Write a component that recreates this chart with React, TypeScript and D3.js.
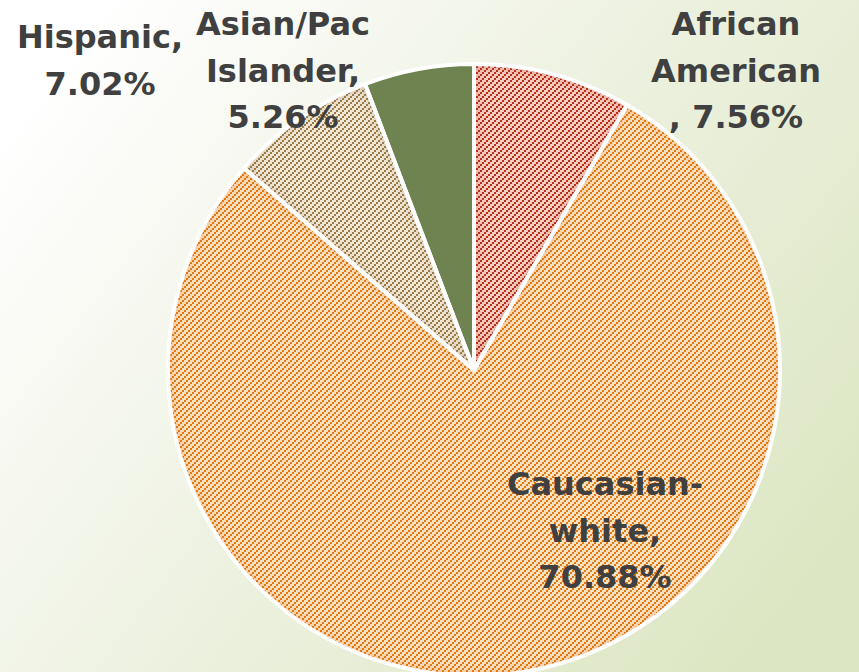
import React from "react";
import * as d3 from "d3";

const categories = ["African American", "Caucasian-white", "Hispanic", "Asian/Pac Islander"];
const values = [7.56, 70.88, 7.02, 5.26];
const labelLines = [
  ["African", "American", ", 7.56%"],
  ["Caucasian-", "white,", "70.88%"],
  ["Hispanic,", "7.02%"],
  ["Asian/Pac", "Islander,", "5.26%"],
];

const W = 859;
const H = 672;
const CX = 474;
const CY = 370;
const R = 306;

// style per slice
const baseColors = ["#f9d0c2", "#fde2c2", "#f1e8d8", "#6e8350"];
const shadeColors = ["#d87060", "#f0a050", "#c8b496", "#6e8350"];
const stripeColors = ["#b5311b", "#e27812", "#9b7a45", null];
// label anchors (center x, first baseline y)
const labelAnchors = [
  [736, 35],
  [605, 495],
  [100, 48],
  [283, 35],
];
const LINE_H = 46.5;

export default function App() {
  const pie = d3.pie<number>().sort(null).value((d) => d);
  const arcs = pie(values);
  const arcGen = d3.arc<d3.PieArcDatum<number>>().innerRadius(0).outerRadius(R);

  return (
    <div style={{ position: "fixed", left: 0, top: 0, width: W, height: H }}>
      <svg width={W} height={H} style={{ display: "block" }}>
        <defs>
          <linearGradient id="bg" x1="0" y1="0.2" x2="1" y2="0.8">
            <stop offset="0" stopColor="#ffffff" />
            <stop offset="0.45" stopColor="#eef2e2" />
            <stop offset="1" stopColor="#dce6c2" />
          </linearGradient>
          {arcs.map((a, i) => (
            <filter
              key={"f" + i}
              id={"inner" + i}
              x="-20%"
              y="-20%"
              width="140%"
              height="140%"
            >
              <feFlood floodColor={shadeColors[i]} result="c" />
              <feComposite in="c" in2="SourceAlpha" operator="out" result="inv" />
              <feGaussianBlur in="inv" stdDeviation="7" result="blur" />
              <feComposite in="blur" in2="SourceAlpha" operator="in" result="shadow" />
              <feMerge>
                <feMergeNode in="SourceGraphic" />
                <feMergeNode in="shadow" />
              </feMerge>
            </filter>
          ))}
          {stripeColors.map((c, i) =>
            c ? (
              <pattern
                key={"p" + i}
                id={"stripe" + i}
                width={6}
                height={6}
                patternUnits="userSpaceOnUse"
              >
                <rect x={0} y={4} width={2} height={2} fill={c} shapeRendering="crispEdges" />
                <rect x={2} y={2} width={2} height={2} fill={c} shapeRendering="crispEdges" />
                <rect x={4} y={0} width={2} height={2} fill={c} shapeRendering="crispEdges" />
              </pattern>
            ) : null
          )}
        </defs>
        <rect x={0} y={0} width={W} height={H} fill="url(#bg)" />
        <g transform={`translate(${CX},${CY})`}>
          {arcs.map((a, i) => (
            <g key={categories[i]}>
              <path
                d={arcGen(a) || ""}
                fill={baseColors[i]}
                filter={stripeColors[i] ? `url(#inner${i})` : undefined}
              />
              {stripeColors[i] && <path d={arcGen(a) || ""} fill={`url(#stripe${i})`} />}
            </g>
          ))}
          {arcs.map((a, i) => (
            <path
              key={"s" + i}
              d={arcGen(a) || ""}
              fill="none"
              stroke="#ffffff"
              strokeWidth={4}
              strokeLinejoin="round"
            />
          ))}
        </g>
        {labelLines.map((lines, i) => (
          <text
            key={"l" + i}
            textAnchor="middle"
            fontFamily="'DejaVu Sans', sans-serif"
            fontWeight="bold"
            fontSize={32}
            fill="#404040"
          >
            {lines.map((ln, j) => (
              <tspan key={j} x={labelAnchors[i][0]} y={labelAnchors[i][1] + j * LINE_H}>
                {ln}
              </tspan>
            ))}
          </text>
        ))}
      </svg>
    </div>
  );
}
